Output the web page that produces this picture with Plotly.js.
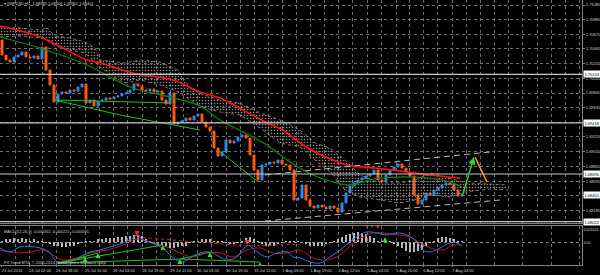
<!DOCTYPE html>
<html><head><meta charset="utf-8">
<script src="https://cdn.plot.ly/plotly-3.0.1.min.js"></script>
<style>html,body{margin:0;padding:0;background:#000;}#chart{width:600px;height:275px;}</style>
</head><body><div id="chart"></div>
<script>
// ---- price data (H1 candles, each entry ~2 bars) ----
const firstOpen = 1.70590;
const closes = [1.70378,1.70308,1.70279,1.70350,1.70378,1.70421,1.70350,1.70336,1.70364,1.70322,
 1.70491,1.70166,1.69954,1.69714,1.69827,1.69855,1.69841,1.69883,1.69869,1.69926,
 1.69968,1.69700,1.69742,1.69657,1.69728,1.69742,1.69770,1.69756,1.69784,1.69799,
 1.69827,1.69841,1.69883,1.69968,1.69940,1.69883,1.69869,1.69898,1.69855,1.69869,
 1.69742,1.69685,1.69841,1.69403,1.69431,1.69445,1.69487,1.69459,1.69516,1.69544,
 1.69431,1.69360,1.69304,1.69063,1.68950,1.69007,1.69176,1.69134,1.69162,1.69219,
 1.69247,1.69205,1.68964,1.68752,1.68611,1.68823,1.68837,1.68865,1.68851,1.68894,
 1.68837,1.68823,1.68752,1.68328,1.68356,1.68540,1.68328,1.68243,1.68215,1.68257,
 1.68229,1.68201,1.68243,1.68215,1.68158,1.68286,1.68427,1.68526,1.68568,1.68611,
 1.68639,1.68667,1.68696,1.68752,1.68611,1.68583,1.68682,1.68752,1.68795,1.68837,
 1.68780,1.68724,1.68667,1.68399,1.68271,1.68328,1.68427,1.68399,1.68469,1.68498,
 1.68540,1.68568,1.68554,1.68469,1.68385,1.68401];

const xLabels = ["23 Jul 2014","24 Jul 02:00","24 Jul 18:00","25 Jul 10:00","28 Jul 03:00","28 Jul 19:00",
 "29 Jul 11:00","30 Jul 03:00","30 Jul 19:00","31 Jul 11:00","1 Aug 03:00","1 Aug 19:00","4 Aug 12:00",
 "5 Aug 04:00","5 Aug 20:00","6 Aug 12:00","7 Aug 04:00"];
const xMajor = [-0.25,6.75,13.5,20.75,27.75,35,42,48.75,56,63,70,77,84,91.25,98.5,105.25,112.5,119.5,126.5,133.75,140.75];
const xMinor = [3.25,10.125,17.125,24.25,31.375,38.5,45.375,52.375,59.5,66.5,73.5,80.5,87.625,94.875,101.875,108.875,116,123,130.125,137.25,144.25];

const priceTicks = [1.71085,1.70880,1.70670,1.70465,1.70255,1.70045,1.69840,1.69635,1.69425,1.69220,1.69010,1.68805,1.68595,1.68390,1.68185];
const priceTickText = ["1.71085","1.70880","1.70670","1.70465","1.70255","1.70045","1.69840","1.69635","","1.69220","1.69010","1.68805","1.68595","","1.68185"];

// Ichimoku cloud
const cloudX = [-0.5,4.5,10,11,13.25,17,20.75,23.25,24.5,28.25,30.75,34.5,39.5,44,47,50.75,54.5,59.5,64.5,69.5,74.5,78.25,82,85.75,89.5,94.5,99.5,103.25,107,112,115.75,122,126.5];
const cloudA = [1.70774,1.70760,1.70732,1.70774,1.70647,1.70619,1.70562,1.70477,1.70308,1.70279,1.70265,1.70308,1.70279,1.70166,1.69912,1.69813,1.69742,1.69700,1.69558,1.69459,1.69318,1.69134,1.69063,1.68894,1.68682,1.68568,1.68568,1.68611,1.68710,1.68639,1.68568,1.68554,1.68540];
const cloudB = [1.70633,1.70647,1.70619,1.70590,1.70506,1.70449,1.70407,1.70279,1.70209,1.70053,1.69982,1.70025,1.69954,1.69855,1.69742,1.69629,1.69572,1.69530,1.69346,1.69134,1.69077,1.68894,1.68724,1.68469,1.68370,1.68328,1.68286,1.68328,1.68399,1.68370,1.68441,1.68484,1.68469];

// Moving averages
const maRedX = [-0.5,9.5,21.25,23.75,32.75,42.75,49.5,54.5,60.25,66.25,70.25,74.5,78.75,82.75,86.25,93.25,99.5,107,114.5];
const maRedY = [1.70788,1.70633,1.70308,1.70279,1.70124,1.70025,1.69855,1.69770,1.69601,1.69417,1.69318,1.69134,1.68993,1.68894,1.68823,1.68780,1.68738,1.68682,1.68639];
const maGreenX = [-0.5,10.25,21.25,32,42,49.5,54.5,60.25,66.25,71.25,77.75,82.75,87,92.75,98.75,106.25,112,115];
const maGreenY = [1.70633,1.70463,1.70237,1.69926,1.69784,1.69657,1.69459,1.69290,1.69106,1.68894,1.68682,1.68583,1.68540,1.68625,1.68653,1.68639,1.68583,1.68512];
const maSlowX = [9.5,24.5,39.5,49.5,60.75,72,87,104.5];
const maSlowY = [1.70534,1.70195,1.69813,1.69431,1.69290,1.68894,1.68795,1.68724];

// Trend lines, channel, projection
const trendX = [13.25,30.75,42,null,13.25,29.5,49.5,null,54,64];
const trendY = [1.69742,1.69714,1.69700,null,1.69742,1.69530,1.69318,null,1.69035,1.68583];
const chanUpX = [65.75,122], chanUpY = [1.68682,1.69007];
const chanLoX = [65.75,124.5], chanLoY = [1.68031,1.68328];
const projUpX = [115,118], projUpY = [1.68370,1.68936];
const projDnX = [118.25,121.25], projDnY = [1.68936,1.68583];
const levels = [1.70104,1.69418,1.68696,1.68022];
const levelText = ["1.70104","1.69418","1.68696","1.68022"];
const lastPrice = 1.68401;

// MACD panel
const hist = [0.00016,0.00025,0.00025,0.00033,0.00025,0.00033,0.00025,0.00016,0.00025,0.00016,0.00008,
 -0.00008,-0.00016,-0.00025,-0.00033,-0.00041,-0.00041,-0.00033,-0.00025,-0.00016,
 -0.00008,0.00008,0.00016,0.00016,0.00025,0.00025,0.00033,0.00033,0.00033,0.00041,0.00041,0.00049,0.00049,
 0.00058,0.00058,0.00049,
 0.00025,0.00008,-0.00016,-0.00025,-0.00033,-0.00041,-0.00049,-0.00049,-0.00041,-0.00033,-0.00025,
 -0.00008,0.00008,0.00016,0.00025,0.00025,0.00025,0.00016,0.00008,0.00008,
 -0.00008,-0.00016,-0.00016,-0.00008,
 0.00016,0.00033,0.00041,0.00025,
 0.00008,-0.00016,-0.00025,-0.00025,-0.00025,-0.00016,-0.00008,
 0.00008,0.00016,0.00016,0.00008,-0.00008,
 -0.00016,-0.00025,-0.00025,-0.00033,-0.00025,-0.00016,-0.00008,
 0.00008,0.00025,0.00041,0.00058,0.00066,0.00074,0.00082,0.00074,0.00066,0.00049,0.00033,
 0.00016,0.00016,0.00008,0.00008,
 -0.00016,-0.00033,-0.00049,-0.00066,-0.00082,-0.00082,-0.00074,-0.00058,-0.00033,
 -0.00008,0.00016,0.00033,0.00041,0.00041,0.00033,0.00025,0.00016,0.00008];
const macdX = [-0.5,2,4.5,9.5,12,13.25,14.5,17,19.5,22,24.5,27,30.25,32.75,34,35.25,38.75,41.25,42.75,45,47,49.5,52,54.5,56.25,58.75,60.75,61.5,63.75,66.25,68.75,71.25,72.75,74.5,77,79.5,82,84.5,87,89.5,91.25,93.75,96.25,98.75,101.25,103.75,105.25,107,109.5,112,113.75,115];
const macdY = [-0.00045,-0.00078,-0.00037,-0.00045,-0.00086,-0.00144,-0.00169,-0.00160,-0.00119,-0.00078,-0.00062,-0.00037,-0.00004,0.00037,0.00062,0.00021,-0.00021,-0.00078,-0.00127,-0.00160,-0.00127,-0.00086,-0.00078,-0.00119,-0.00144,-0.00119,-0.00037,-0.00021,-0.00078,-0.00119,-0.00086,-0.00078,-0.00119,-0.00127,-0.00160,-0.00169,-0.00119,-0.00062,0.00004,0.00062,0.00086,0.00078,0.00062,0.00078,0.00062,0.00004,-0.00062,-0.00078,-0.00045,-0.00004,-0.00004,-0.00031];
const sigX = [-0.5,3.75,7,10.25,12.75,15.25,18.75,22,26.25,30.25,33.75,37,41.25,44.5,47.75,51.25,54.5,57.75,61.25,64.5,67.75,71.25,74.5,77.75,81.25,84.5,87.75,90.25,92.75,95.25,98.75,102,104.5,107,110.25,112.75,115];
const sigY = [-0.00062,-0.00086,-0.00078,-0.00062,-0.00103,-0.00144,-0.00127,-0.00086,-0.00062,-0.00021,0.00029,0.00004,-0.00037,-0.00086,-0.00119,-0.00086,-0.00086,-0.00119,-0.00062,-0.00045,-0.00086,-0.00086,-0.00062,-0.00127,-0.00144,-0.00103,-0.00004,0.00045,0.00078,0.00078,0.00062,0.00045,-0.00004,-0.00045,-0.00062,-0.00021,-0.00022];
const mtX = [14,20.75,null,14,24,null,14,40.25,null,14,44.5,52,null,44.5,64.5];
const mtY = [-0.00169,-0.00120,null,-0.00169,-0.00087,null,-0.00169,-0.00021,null,-0.00169,-0.00136,-0.00079,null,-0.00136,-0.00161];
const mrX = [33.75,61.25,74.5], mrY = [0.00044,-0.00030,-0.00013];
const upX = [20.75,24,40.25,44.5,52,64.5,95.75], upY = [-0.00120,-0.00087,-0.00021,-0.00136,-0.00079,-0.00161,0.00044];
const dnX = [33.75,61.25,91.25,92.5,94], dnY = [0.00053,-0.00021,0.00118,0.00118,0.00110];
const macdTicks = [0.001024,0,-0.001853], macdTickText = ["0.001024","0.00","-0.001853"];

// ---- build ----
const idx = closes.map((_, i) => i);
const opens = closes.map((c, i) => i === 0 ? firstOpen : closes[i-1]);
const highs = closes.map((c, i) => Math.max(c, opens[i]));
const lows = closes.map((c, i) => Math.min(c, opens[i]));

const FONT = 'Liberation Sans, Arial, sans-serif';
const TXT = '#d0d0d0';
const GRID = '#6e6e6e';

const traces = [
 {type:'scatter', x:cloudX, y:cloudA, mode:'lines', line:{color:'#b08870', width:0.8, dash:'dot'}, hoverinfo:'skip'},
 {type:'scatter', x:cloudX, y:cloudB, mode:'lines', fill:'tonexty', fillcolor:'rgba(0,0,0,0)',
  fillpattern:{shape:'.', fgcolor:'#8c8c8c', bgcolor:'rgba(0,0,0,0)', size:3, solidity:0.22},
  line:{color:'#b08870', width:0.8, dash:'dot'}, hoverinfo:'skip'},
 {type:'scatter', x:maSlowX, y:maSlowY, mode:'lines', line:{color:'#8b1010', width:1, dash:'dot', shape:'spline'}},
 {type:'scatter', x:trendX, y:trendY, mode:'lines', line:{color:'#20c020', width:1}},
 {type:'scatter', x:maGreenX, y:maGreenY, mode:'lines', line:{color:'#0a8a0a', width:1.2, shape:'spline'}},
 {type:'candlestick', x:idx, open:opens, high:highs, low:lows, close:closes,
  increasing:{line:{color:'#2a8cf0', width:1}, fillcolor:'#2a8cf0'},
  decreasing:{line:{color:'#ff5a14', width:1}, fillcolor:'#ff5a14'}, whiskerwidth:0},
 {type:'scatter', x:maRedX, y:maRedY, mode:'lines', line:{color:'#ff1010', width:1.6, shape:'spline'}},
 {type:'scatter', x:chanUpX, y:chanUpY, mode:'lines', line:{color:'#b8b8b8', width:1, dash:'6px,4px'}},
 {type:'scatter', x:chanLoX, y:chanLoY, mode:'lines', line:{color:'#b8b8b8', width:1, dash:'6px,4px'}},
 {type:'scatter', x:projDnX, y:projDnY, mode:'lines', line:{color:'#ffa500', width:1.5}},
 // MACD
 {type:'bar', x:idx, y:hist, xaxis:'x2', yaxis:'y2', width:0.45, marker:{color:'#b8b8b8', line:{width:0}}},
 {type:'scatter', x:mrX, y:mrY, xaxis:'x2', yaxis:'y2', mode:'lines', line:{color:'#e02020', width:1, dash:'dot'}},
 {type:'scatter', x:mtX, y:mtY, xaxis:'x2', yaxis:'y2', mode:'lines', line:{color:'#20c020', width:1}},
 {type:'scatter', x:sigX, y:sigY, xaxis:'x2', yaxis:'y2', mode:'lines', line:{color:'#c01818', width:1, shape:'spline'}},
 {type:'scatter', x:macdX, y:macdY, xaxis:'x2', yaxis:'y2', mode:'lines', line:{color:'#2878e0', width:1, shape:'spline'}},
 {type:'scatter', x:upX, y:upY, xaxis:'x2', yaxis:'y2', mode:'markers', marker:{symbol:'arrow-up', size:5, color:'#30e030', line:{width:0}}},
 {type:'scatter', x:dnX, y:dnY, xaxis:'x2', yaxis:'y2', mode:'markers', marker:{symbol:'arrow-down', size:5, color:'#ff2020', line:{width:0}}}
];

const H = 265; // plot bottom pixel
const shapes = levels.map(v => ({type:'line', xref:'paper', x0:0, x1:1, yref:'y', y0:v, y1:v, line:{color:'#c8c8c8', width:1.2}}));
shapes.push({type:'line', xref:'paper', x0:0, x1:1, yref:'y2', y0:0, y1:0, line:{color:'#909090', width:1, dash:'dot'}});

const annotations = levels.map((v, i) => ({xref:'paper', x:1, xanchor:'left', xshift:1, yref:'y', y:v, text:levelText[i],
  showarrow:false, bgcolor:'#ffffff', font:{family:FONT, size:4, color:'#000'}, borderpad:0.5}));
annotations.push({xref:'paper', x:1, xanchor:'left', xshift:1, yref:'y', y:lastPrice, text:lastPrice.toFixed(5),
  showarrow:false, bgcolor:'#ffffff', font:{family:FONT, size:4, color:'#000'}, borderpad:0.5});
annotations.push({xref:'x', yref:'y', x:projUpX[1], y:projUpY[1], axref:'x', ayref:'y', ax:projUpX[0], ay:projUpY[0],
  text:'', showarrow:true, arrowhead:2, arrowsize:1, arrowwidth:1.5, arrowcolor:'#30d030'});
annotations.push({xref:'paper', yref:'paper', x:0.004, y:(H-4)/H, xanchor:'left', yanchor:'middle', showarrow:false,
  text:'▾ GBPUSD,H1  1.68385 1.68406 1.68361 1.68401', font:{family:FONT, size:4, color:TXT}});
annotations.push({xref:'paper', yref:'paper', x:0.004, y:(H-231)/H, xanchor:'left', yanchor:'middle', showarrow:false,
  text:'MACD(12,26,9) -0.000311 -0.000221 -0.000091', font:{family:FONT, size:4, color:TXT}});
annotations.push({xref:'paper', yref:'paper', x:0.004, y:(H-262.5)/H, xanchor:'left', yanchor:'middle', showarrow:false,
  text:'FX Trend MT4, © 2005-2014, MetaQuotes Software Corp.', font:{family:FONT, size:4, color:TXT}});

const xCommon = {range:[-0.5,145], showgrid:true, gridcolor:GRID, griddash:'dot', gridwidth:1, zeroline:false,
  minor:{tickvals:xMinor, showgrid:true, gridcolor:GRID, griddash:'dot', gridwidth:1},
  showline:true, mirror:true, linecolor:'#808080', linewidth:1, fixedrange:true};

const layout = {
  width:600, height:275, paper_bgcolor:'#000', plot_bgcolor:'#000',
  margin:{l:0, r:18, t:0, b:10, pad:0}, showlegend:false, bargap:0, hovermode:false,
  xaxis: Object.assign({}, xCommon, {anchor:'y', tickvals:xMajor, showticklabels:false, ticks:'', rangeslider:{visible:false}}),
  xaxis2: Object.assign({}, xCommon, {anchor:'y2', matches:'x', tickvals:xMajor.slice(0, xLabels.length), ticktext:xLabels,
    ticklabelshift:11, ticks:'outside', ticklen:1, tickcolor:'#808080', tickfont:{family:FONT, size:4, color:TXT}}),
  yaxis: {domain:[(H-223)/H, 1], range:[1.68003, 1.71156], side:'right', tickvals:priceTicks, ticktext:priceTickText,
    tickfont:{family:FONT, size:4, color:TXT}, ticks:'outside', ticklen:2, tickcolor:'#808080',
    showgrid:true, gridcolor:GRID, griddash:'dot', zeroline:false, showline:true, mirror:true, linecolor:'#808080', fixedrange:true},
  yaxis2: {domain:[0, (H-226)/H], range:[-0.00185, 0.00135], side:'right', tickvals:macdTicks, ticktext:macdTickText,
    tickfont:{family:FONT, size:3.5, color:TXT}, ticks:'', ticklen:0, 
    showgrid:false, zeroline:false, showline:true, mirror:true, linecolor:'#808080', fixedrange:true},
  shapes:shapes, annotations:annotations
};

Plotly.newPlot('chart', traces, layout, {staticPlot:true, displayModeBar:false});
</script></body></html>
